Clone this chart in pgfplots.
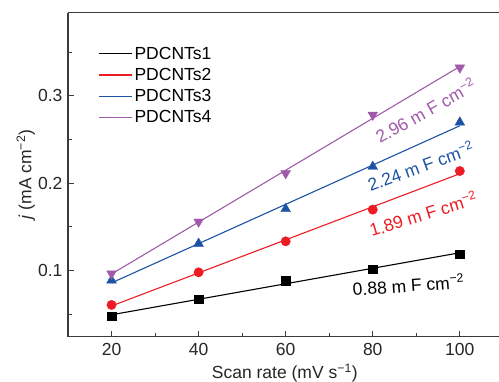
\documentclass[border=0pt]{standalone}
\usepackage{pgfplots}
\pgfplotsset{compat=1.18}
\usepackage{fontspec}
\setmainfont{Liberation Sans}
\definecolor{cblue}{RGB}{30,82,165}
\definecolor{cred}{RGB}{237,28,36}
\definecolor{cpurple}{RGB}{160,90,170}
\definecolor{axgray}{RGB}{60,60,60}
\newcommand{\ff}{\fontsize{17.5}{20}\selectfont}
\begin{document}
\begin{tikzpicture}
\begin{axis}[
  name=ax,
  scale only axis, width=431pt, height=324pt,
  xmin=10, xmax=109, ymin=0.024, ymax=0.395,
  axis x line*=box, axis y line*=left,
  axis line style={axgray, line width=1.1pt},
  xtick={20,40,60,80,100}, minor xtick={30,50,70,90},
  ytick={0.1,0.2,0.3}, minor ytick={0.05,0.15,0.25,0.35},
  xtick pos=bottom, ytick pos=left,
  tick align=inside,
  major tick length=6pt, minor tick length=4pt,
  tick style={axgray, line width=0.9pt},
  /pgf/number format/assume math mode=true,
  yticklabel style={/pgf/number format/fixed, /pgf/number format/precision=1, xshift=-2pt},
  xticklabel style={yshift=-3pt},
  font=\ff,
  ticklabel style={font=\ff, text=black!85},
  xlabel={Scan rate (mV s\textsuperscript{−1})},
  ylabel={\textit{j} (mA cm\textsuperscript{−2})},
  xlabel style={at={(axis description cs:0.503,-0.112)}, anchor=center, text=black!85},
  ylabel style={at={(axis description cs:-0.098,0.5)}, anchor=center, text=black!85},
  legend style={draw=none, fill=none, at={(axis description cs:0.07,0.901)}, anchor=north west,
    font=\ff, row sep=3.5pt, inner sep=0pt},
  legend cell align=left,
  legend image code/.code={\draw[#1, line width=1.2pt] (0pt,0pt) -- (33pt,0pt);},
  clip=false,
]
% fit lines (legend)
\addplot[color=black, line width=1.1pt] coordinates {(20,0.0491) (100,0.1201)};
\addlegendentry{PDCNTs1}
\addplot[color=cred, line width=1.1pt] coordinates {(20,0.0592) (100,0.2106)};
\addlegendentry{PDCNTs2}
\addplot[color=cblue, line width=1.1pt] coordinates {(20,0.0856) (100,0.2655)};
\addlegendentry{PDCNTs3}
\addplot[color=cpurple, line width=1.1pt] coordinates {(20,0.0958) (100,0.3334)};
\addlegendentry{PDCNTs4}
% data points
\addplot[only marks, mark=square*, mark size=4.2pt, black, forget plot]
  coordinates {(20,0.0473) (40,0.0672) (60,0.0882) (80,0.1016) (100,0.1188)};
\addplot[only marks, mark=*, mark size=4.7pt, cred, forget plot]
  coordinates {(20,0.0604) (40,0.0977) (60,0.1332) (80,0.1695) (100,0.2137)};
\addplot[only marks, mark=triangle*, mark size=5.6pt, cblue, forget plot]
  coordinates {(20,0.0886) (40,0.1306) (60,0.1703) (80,0.2187) (100,0.2694)};
\addplot[only marks, mark=triangle*, mark size=5.6pt, cpurple, forget plot, mark options={rotate=180}]
  coordinates {(20,0.0962) (40,0.1556) (60,0.2110) (80,0.2780) (100,0.3320)};
% annotations
\node[rotate=4, text=black] at (axis cs:88.2,0.0836) {0.88 m F cm\textsuperscript{−2}};
\node[rotate=17, text=cred] at (axis cs:91.6,0.165) {1.89 m F cm\textsuperscript{−2}};
\node[rotate=20, text=cblue] at (axis cs:91.0,0.2195) {2.24 m F cm\textsuperscript{−2}};
\node[rotate=29, text=cpurple] at (axis cs:92.1,0.283) {2.96 m F cm\textsuperscript{−2}};
\coordinate (bl) at (rel axis cs:0,0);
\end{axis}
\pgfresetboundingbox
\useasboundingbox ([shift={(-68pt,-45.3pt)}]bl) rectangle ++(499pt,382pt);
\end{tikzpicture}
\end{document}
